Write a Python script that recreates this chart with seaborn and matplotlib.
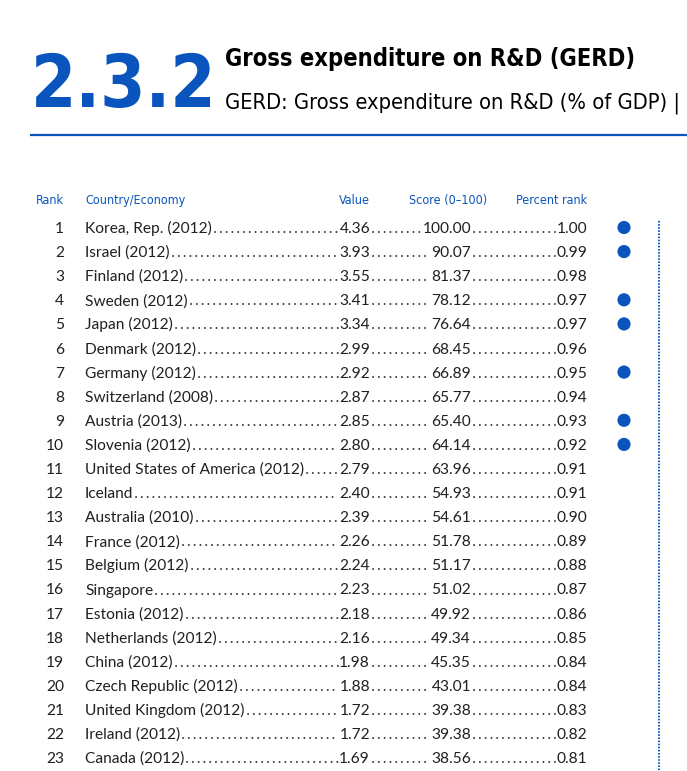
import matplotlib
matplotlib.use("Agg")
import matplotlib.pyplot as plt
from matplotlib import font_manager as fm
import seaborn as sns
import pandas as pd

ranks = list(range(1, 24))
countries = ["Korea, Rep. (2012)", "Israel (2012)", "Finland (2012)", "Sweden (2012)",
             "Japan (2012)", "Denmark (2012)", "Germany (2012)", "Switzerland (2008)",
             "Austria (2013)", "Slovenia (2012)", "United States of America (2012)",
             "Iceland", "Australia (2010)", "France (2012)", "Belgium (2012)", "Singapore",
             "Estonia (2012)", "Netherlands (2012)", "China (2012)", "Czech Republic (2012)",
             "United Kingdom (2012)", "Ireland (2012)", "Canada (2012)"]
values = [4.36, 3.93, 3.55, 3.41, 3.34, 2.99, 2.92, 2.87, 2.85, 2.80, 2.79, 2.40,
          2.39, 2.26, 2.24, 2.23, 2.18, 2.16, 1.98, 1.88, 1.72, 1.72, 1.69]
scores = [100.00, 90.07, 81.37, 78.12, 76.64, 68.45, 66.89, 65.77, 65.40, 64.14, 63.96,
          54.93, 54.61, 51.78, 51.17, 51.02, 49.92, 49.34, 45.35, 43.01, 39.38, 39.38, 38.56]
pct_ranks = [1.00, 0.99, 0.98, 0.97, 0.97, 0.96, 0.95, 0.94, 0.93, 0.92, 0.91, 0.91,
             0.90, 0.89, 0.88, 0.87, 0.86, 0.85, 0.84, 0.84, 0.83, 0.82, 0.81]
strength = [True, True, False, True, True, False, True, False, True, True, False, False,
            False, False, False, False, False, False, False, False, False, False, False]

headers = ["Rank", "Country/Economy", "Value", "Score (0\u2013100)", "Percent rank"]

df = pd.DataFrame({"rank": ranks, "country": countries, "value": values,
                   "score": scores, "pct": pct_ranks, "strength": strength})

# ---- style ----
sns.set_theme(style="white")
BLUE = "#0a55bd"
INK = "#231f20"
body_font = ["Lato", "DejaVu Sans"]


def find_condensed(bold):
    # look for any narrow / condensed face that is installed
    good = []
    for f in fm.fontManager.ttflist:
        narrow = ("Narrow" in f.name or "Condensed" in f.name or "Cond" in f.fname
                  or str(f.stretch) in ("condensed", "semi-condensed", "extra-condensed"))
        if not narrow or f.style != "normal":
            continue
        w = f.weight if isinstance(f.weight, int) else (700 if "bold" in str(f.weight) else 400)
        if (w >= 600) == bold:
            good.append(f)
    if good:
        return fm.FontProperties(fname=sorted(good, key=lambda f: f.fname)[0].fname)
    return fm.FontProperties(family=["Roboto", "DejaVu Sans"],
                             weight="bold" if bold else "normal")


cond_bold = find_condensed(True)
cond_reg = find_condensed(False)

fig = plt.figure(figsize=(6.87, 7.71), dpi=100)
ax = fig.add_axes([0, 0, 1, 1])
ax.set_xlim(0, 687)
ax.set_ylim(771, 0)
ax.axis("off")
renderer = fig.canvas.get_renderer()


def fit(t, width, only_shrink=False):
    # shrink / grow a text so it spans the given pixel width
    bb = t.get_window_extent(renderer)
    if only_shrink and bb.width <= width:
        return t
    t.set_fontsize(t.get_fontsize() * width / bb.width)
    return t


# column layout (pixel positions)
x_rank, x_country, x_value, x_score, x_pct, x_dot = 64, 85, 370, 471, 587, 624
first_base, step = 233, 24.1
df["y"] = first_base + (df["rank"] - 1) * step
df["ymid"] = df["y"] - 5.5
df["dot_x"] = x_dot

# ---- header ----
t = ax.text(31, 107, "2.3.2", fontproperties=cond_bold, fontsize=67,
            color=BLUE, va="baseline", ha="left")
fit(t, 186, only_shrink=True)
t = ax.text(225, 66, "Gross expenditure on R&D (GERD)", fontproperties=cond_bold,
            fontsize=22, color="black", va="baseline")
fit(t, 410)
t = ax.text(225, 108, "GERD: Gross expenditure on R&D (% of GDP) |", fontproperties=cond_reg,
            fontsize=19, color="black", va="baseline")
fit(t, 456)
ax.plot([30, 687], [135, 135], color=BLUE, lw=1.6, solid_capstyle="butt")

hy = 204
hkw = dict(fontproperties=cond_reg, fontsize=9, color=BLUE, va="baseline")
ax.text(x_rank, hy, headers[0], ha="right", **hkw)
ax.text(x_country, hy, headers[1], ha="left", **hkw)
ax.text(x_value, hy, headers[2], ha="right", **hkw)
ax.text(487, hy, headers[3], ha="right", **hkw)
ax.text(x_pct, hy, headers[4], ha="right", **hkw)

# ---- rows ----
tkw = dict(family=body_font, fontsize=11.2, color=INK, va="baseline")
rows = []
for r in df.itertuples():
    ax.text(x_rank, r.y, str(r.rank), ha="right", **tkw)
    tc = ax.text(x_country, r.y, r.country, ha="left", **tkw)
    tv = ax.text(x_value, r.y, f"{r.value:.2f}", ha="right", **tkw)
    ts = ax.text(x_score, r.y, f"{r.score:.2f}", ha="right", **tkw)
    tp = ax.text(x_pct, r.y, f"{r.pct:.2f}", ha="right", **tkw)
    rows.append((r.y, tc, tv, ts, tp))

# strength markers
sns.scatterplot(data=df[df["strength"]], x="dot_x", y="ymid", s=90, color=BLUE,
                edgecolor="none", ax=ax, legend=False, zorder=3)
ax.set_xlim(0, 687)
ax.set_ylim(771, 0)
ax.axis("off")

# dot leaders between the columns
fig.canvas.draw()
inv = ax.transData.inverted()


def xspan(t):
    bb = t.get_window_extent(renderer)
    (a, _), (b, _) = inv.transform([(bb.x0, 0), (bb.x1, 0)])
    return a, b


for y, tc, tv, ts, tp in rows:
    spans = [xspan(t) for t in (tc, tv, ts, tp)]
    for (a0, a1), (b0, b1) in zip(spans[:-1], spans[1:]):
        ax.plot([a1 + 3, b0 - 1.5], [y - 1, y - 1], color=INK, lw=1.3,
                ls=(0, (0.1, 3.1)), dash_capstyle="round")

# dotted separator at the right
ax.plot([659, 659], [221, 771], color=BLUE, lw=1.4, ls=(0, (0.8, 0.8)))

fig.savefig("out.png", dpi=100)
